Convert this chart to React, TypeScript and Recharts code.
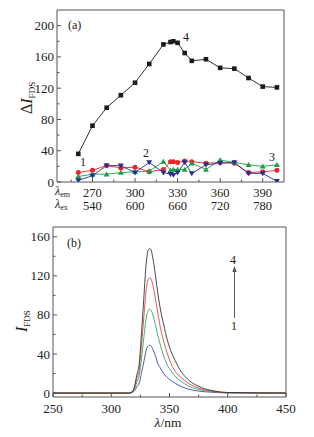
import React from "react";
import { LineChart, Line, XAxis, YAxis, ReferenceLine } from "recharts";

// ---------- Panel (a) data ----------
const emX = [260, 270, 280, 290, 300, 310, 320, 325, 327, 330, 335, 340, 350, 360, 370, 380, 390, 400];
const s4 = [36, 72, 95, 111, 127, 151, 176, 179, 180, 178, 165, 155, 157, 146, 145, 133, 122, 121];
const s1 = [12, 15, 21, 18, 19, 13, 16, 26, 26, 25, 27, 26, 24, 25, 24, 12, 13, 15];
const s2 = [2, 8, 21, 21, 12, 25, 12, 10, 9, 12, 25, 11, 22, 24, 25, 11, 11, 1];
const s3 = [7, 10, 10, 12, 13, 14, 26, 15, 16, 16, 16, 24, 16, 28, 25, 22, 20, 22];
const emMajor = [270, 300, 330, 360, 390];
const emMinor = [255, 285, 315, 345, 375];
const exLabels = [540, 600, 660, 720, 780];
const aYMajor = [0, 40, 80, 120, 160, 200];
const aYMinor = [20, 60, 100, 140, 180];

// ---------- Panel (b) data ----------
const bX = [250, 300, 315, 318, 320, 322, 324, 326, 328, 330, 332, 333, 334, 336, 338, 340, 342, 345, 348, 350, 355, 360, 365, 370, 375, 380, 385, 390, 400, 450];
const b4 = [0, 0, 0, 1.5, 7, 19, 30, 62, 98, 133, 147, 148, 147, 136, 120, 102, 87, 70, 55, 47, 33, 22, 15, 10, 7, 4.5, 3, 1.8, 0.6, 0];
const b3 = [0, 0, 0, 1.2, 6, 15, 24, 50, 78, 106, 117, 118, 117, 109, 96, 82, 68, 53, 41, 34, 22, 16, 11, 7.5, 5.2, 3.4, 2.3, 1.4, 0.5, 0];
const b2 = [0, 0, 0, 0.9, 4, 11, 18, 36, 57, 77, 85, 86, 85, 79, 70, 59, 50, 38, 29, 25, 17, 12, 8, 5.4, 3.8, 2.6, 1.7, 1, 0.3, 0];
const b1 = [0, 0, 0, 0.5, 2.5, 6.4, 10, 21, 32, 44, 48.5, 49, 48.5, 44, 38, 30, 26, 20, 16, 14, 10, 6.8, 4.5, 3, 2.1, 1.4, 1, 0.6, 0.2, 0];
const bXMajor = [250, 300, 350, 400, 450];
const bXMinor = [275, 325, 375, 425];
const bYMajor = [0, 40, 80, 120, 160];
const bYMinor = [20, 60, 100, 140];

const dataA = emX.map((x, i) => ({ x, s1: s1[i], s2: s2[i], s3: s3[i], s4: s4[i] }));
const dataB = bX.map((x, i) => ({ x, b1: b1[i], b2: b2[i], b3: b3[i], b4: b4[i] }));

const FONT = "'Liberation Serif', 'Times New Roman', 'DejaVu Serif', serif";
const AX = "#555";
const TXT = "#222";
const C_BLACK = "#1a1a1a";
const C_RED = "#e8262b";
const C_BLUE = "#24308f";
const C_GREEN = "#1f9e45";
const CB_BLACK = "#333333";
const CB_RED = "#e0474a";
const CB_GREEN = "#2fa866";
const CB_BLUE = "#3a4aa0";
const TS = 12.5;

const XTickA = (props: any) => {
  const { x, y, payload } = props;
  const v = payload.value;
  const mi = emMajor.indexOf(v);
  const major = mi >= 0;
  return (
    <g>
      <line x1={x} y1={y} x2={x} y2={y - (major ? 4 : 2.5)} stroke={AX} strokeWidth={1} />
      {major && (
        <text x={x} y={y + 14.5} textAnchor="middle" fontFamily={FONT} fontSize={TS} fill={TXT}>{v}</text>
      )}
      {major && (
        <text x={x} y={y + 27.5} textAnchor="middle" fontFamily={FONT} fontSize={TS} fill={TXT}>{exLabels[mi]}</text>
      )}
    </g>
  );
};

const makeYTick = (majors: number[]) => (props: any) => {
  const { x, y, payload } = props;
  const v = payload.value;
  const major = majors.includes(v);
  return (
    <g>
      <line x1={x} y1={y} x2={x + (major ? 4 : 2.5)} y2={y} stroke={AX} strokeWidth={1} />
      {major && (
        <text x={x - 3} y={y} dy="0.35em" textAnchor="end" fontFamily={FONT} fontSize={13} fill={TXT}>{v}</text>
      )}
    </g>
  );
};

const XTickB = (props: any) => {
  const { x, y, payload } = props;
  const v = payload.value;
  const major = bXMajor.includes(v);
  return (
    <g>
      <line x1={x} y1={y} x2={x} y2={y - (major ? 4 : 2.5)} stroke={AX} strokeWidth={1} />
      {major && (
        <text x={x} y={y + 16} textAnchor="middle" fontFamily={FONT} fontSize={13} fill={TXT}>{v}</text>
      )}
    </g>
  );
};

const SquareDot = (props: any) => {
  const { cx, cy } = props;
  if (cx == null || cy == null) return <g />;
  return <rect x={cx - 2.3} y={cy - 2.3} width={4.6} height={4.6} fill={C_BLACK} />;
};
const CircleDot = (props: any) => {
  const { cx, cy } = props;
  if (cx == null || cy == null) return <g />;
  return <circle cx={cx} cy={cy} r={2.5} fill={C_RED} />;
};
const DownTri = (props: any) => {
  const { cx, cy } = props;
  if (cx == null || cy == null) return <g />;
  return <path d={`M${cx - 3},${cy - 2.2} L${cx + 3},${cy - 2.2} L${cx},${cy + 2.8} Z`} fill={C_BLUE} />;
};
const UpTri = (props: any) => {
  const { cx, cy } = props;
  if (cx == null || cy == null) return <g />;
  return <path d={`M${cx - 3},${cy + 2.2} L${cx + 3},${cy + 2.2} L${cx},${cy - 2.8} Z`} fill={C_GREEN} />;
};

const txt = { fontFamily: FONT, fill: TXT } as const;

export default function App() {
  return (
    <div style={{ position: "absolute", left: 0, top: 0, width: 314, height: 437, background: "#fff", overflow: "hidden" }}>
      <div style={{ position: "absolute", left: 0, top: 0 }}>
        <LineChart width={314} height={212} data={dataA} margin={{ top: 10, right: 30, bottom: 0, left: 0 }} style={{ overflow: "visible" }}>
          <XAxis
            dataKey="x"
            type="number"
            domain={[245, 405]}
            ticks={[...emMinor, ...emMajor].sort((a, b) => a - b)}
            tick={<XTickA />}
            tickLine={false}
            tickSize={0}
            tickMargin={0}
            height={30}
            axisLine={{ stroke: AX }}
            interval={0}
            allowDataOverflow
          />
          <YAxis
            type="number"
            domain={[0, 220]}
            ticks={[...aYMinor, ...aYMajor].sort((a, b) => a - b)}
            tick={makeYTick(aYMajor)}
            tickLine={false}
            tickSize={0}
            tickMargin={0}
            width={57}
            axisLine={{ stroke: AX }}
            interval={0}
            allowDataOverflow
          />
          <ReferenceLine y={220} stroke={AX} ifOverflow="visible" />
          <ReferenceLine x={405} stroke={AX} ifOverflow="visible" />
          <Line dataKey="s1" stroke={C_RED} strokeWidth={0.9} dot={<CircleDot />} isAnimationActive={false} type="linear" />
          <Line dataKey="s3" stroke={C_GREEN} strokeWidth={0.9} dot={<UpTri />} isAnimationActive={false} type="linear" />
          <Line dataKey="s2" stroke={C_BLUE} strokeWidth={0.9} dot={<DownTri />} isAnimationActive={false} type="linear" />
          <Line dataKey="s4" stroke={C_BLACK} strokeWidth={0.9} dot={<SquareDot />} isAnimationActive={false} type="linear" />
          <text x={68} y={29} fontSize={12} {...txt}>(a)</text>
          <text x={183} y={41} fontSize={12} {...txt}>4</text>
          <text x={80} y={166} fontSize={12} {...txt}>1</text>
          <text x={143} y={157} fontSize={12} {...txt}>2</text>
          <text x={269} y={161} fontSize={12} {...txt}>3</text>
          <text x={55} y={194.5} fontSize={12} {...txt}>
            <tspan fontStyle="italic">λ</tspan>
            <tspan fontSize={8} dy={2}>em</tspan>
          </text>
          <text x={55} y={207.5} fontSize={12} {...txt}>
            <tspan fontStyle="italic">λ</tspan>
            <tspan fontSize={8} dy={2}>ex</tspan>
          </text>
          <text x={0} y={0} fontSize={16} transform="translate(32,114) rotate(-90)" {...txt}>
            <tspan>Δ</tspan>
            <tspan fontStyle="italic">I</tspan>
            <tspan fontSize={9} dy={3}>FDS</tspan>
          </text>
        </LineChart>
      </div>
      <div style={{ position: "absolute", left: 0, top: 212 }}>
        <LineChart width={314} height={225} data={dataB} margin={{ top: 15, right: 28, bottom: 0, left: 0 }} style={{ overflow: "visible" }}>
          <XAxis
            dataKey="x"
            type="number"
            domain={[250, 450]}
            ticks={[...bXMinor, ...bXMajor].sort((a, b) => a - b)}
            tick={<XTickB />}
            tickLine={false}
            tickSize={0}
            tickMargin={0}
            height={40}
            axisLine={{ stroke: AX }}
            interval={0}
            allowDataOverflow
          />
          <YAxis
            type="number"
            domain={[-4, 170]}
            ticks={[...bYMinor, ...bYMajor].sort((a, b) => a - b)}
            tick={makeYTick(bYMajor)}
            tickLine={false}
            tickSize={0}
            tickMargin={0}
            width={53}
            axisLine={{ stroke: AX }}
            interval={0}
            allowDataOverflow
          />
          <ReferenceLine y={170} stroke={AX} ifOverflow="visible" />
          <ReferenceLine x={450} stroke={AX} ifOverflow="visible" />
          <Line dataKey="b1" stroke={CB_BLUE} strokeWidth={0.9} dot={false} isAnimationActive={false} type="monotone" />
          <Line dataKey="b2" stroke={CB_GREEN} strokeWidth={0.9} dot={false} isAnimationActive={false} type="monotone" />
          <Line dataKey="b3" stroke={CB_RED} strokeWidth={0.9} dot={false} isAnimationActive={false} type="monotone" />
          <Line dataKey="b4" stroke={CB_BLACK} strokeWidth={0.9} dot={false} isAnimationActive={false} type="monotone" />
          <text x={67} y={35} fontSize={12} {...txt}>(b)</text>
          <text x={230} y={52} fontSize={12} {...txt}>4</text>
          <text x={231} y={118} fontSize={12} {...txt}>1</text>
          <line x1={234.5} y1={106} x2={234.5} y2={58} stroke="#555" strokeWidth={1} />
          <path d="M232.3,60 L236.7,60 L234.5,54 Z" fill="#555" />
          <text x={168} y={215} fontSize={13.5} textAnchor="middle" {...txt}>
            <tspan fontStyle="italic">λ</tspan>
            <tspan>/nm</tspan>
          </text>
          <text x={0} y={0} fontSize={16} transform="translate(27,120) rotate(-90)" {...txt}>
            <tspan fontStyle="italic">I</tspan>
            <tspan fontSize={9} dy={3}>FDS</tspan>
          </text>
        </LineChart>
      </div>
    </div>
  );
}
